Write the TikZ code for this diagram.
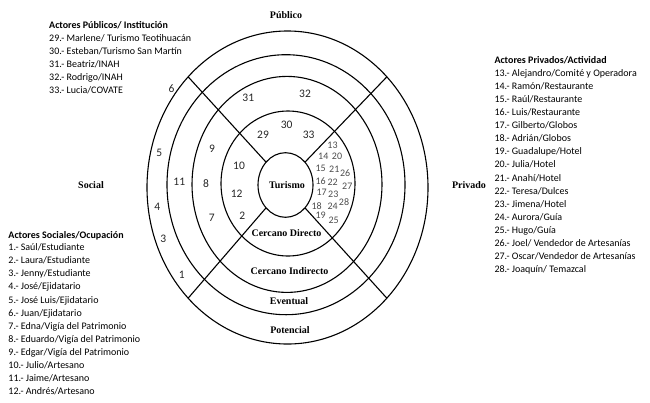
\documentclass[tikz,border=0pt]{standalone}
\usepackage{fontspec}
\setmainfont{Liberation Serif}
\newfontfamily\listfont{Carlito}
\usetikzlibrary{shapes.geometric}

\begin{document}
\begin{tikzpicture}[
  x=1pt, y=-1pt,
  ring/.style={ellipse, draw, line width=1.1pt, inner sep=0pt, outer sep=0pt},
  zone/.style={font=\fontsize{10}{12}\selectfont\bfseries},
  num/.style={font=\listfont\fontsize{11.5}{13}\selectfont, text=black!85},
  pnum/.style={font=\listfont\fontsize{10}{11}\selectfont, text=black!70, inner sep=0pt},
  item/.style={anchor=base west, inner sep=0pt, font=\listfont\fontsize{10}{13}\selectfont},
  hdr/.style={item, font=\listfont\fontsize{10}{13}\selectfont\bfseries}
]
\useasboundingbox (0,0) rectangle (650,402);
% rings
\node[ring, minimum width=281pt, minimum height=313pt] (pot) at (287.5,187.5) {};
\node[ring, minimum width=238pt, minimum height=260pt] (eve) at (286,184.7) {};
\node[ring, minimum width=190pt, minimum height=216pt] (ind) at (287,184.4) {};
\node[ring, minimum width=134pt, minimum height=145pt] (dir) at (288,183.5) {};
\node[ring, minimum width=55pt,  minimum height=64.6pt] (tur) at (285.5,185) {};
% sector lines
\draw[line width=1.1pt] (tur.north east) -- (pot.north east);
\draw[line width=1.1pt] (tur.north west) -- (pot.north west);
\draw[line width=1.1pt] (tur.south east) -- (pot.south east);
\draw[line width=1.1pt] (tur.south west) -- (pot.south west);
% zone names
\node[zone] (turismo) at (287,185)   {Turismo};
\node[zone] (cdir)    at (286.5,232.7) {Cercano Directo};
\node[zone] (cind)    at (289.5,270.7) {Cercano Indirecto};
\node[zone] (event)   at (289,301)   {Eventual};
\node[zone] (poten)   at (290,330)   {Potencial};
\node[zone] (publico) at (286,15)    {Público};
\node[zone] (social)  at (91,185)    {Social};
\node[zone] (privado) at (469,185)   {Privado};
% social actors
\node[num] (n6)  at (171.5,88.5) {6};
\node[num] (n5)  at (159.3,153.3) {5};
\node[num] (n4)  at (157.3,207.3) {4};
\node[num] (n3)  at (163.3,238.5) {3};
\node[num] (n1)  at (181.7,274.3) {1};
\node[num] (n11) at (179.3,181.7) {11};
\node[num] (n9)  at (212,149)   {9};
\node[num] (n8)  at (206,183.3) {8};
\node[num] (n7)  at (211.7,218.3) {7};
\node[num] (n10) at (239,165.7) {10};
\node[num] (n12) at (236.7,193.3) {12};
\node[num] (n2)  at (242.3,216) {2};
% public actors
\node[num] (n31) at (248.3,98.3) {31};
\node[num] (n32) at (305,94)    {32};
\node[num] (n30) at (286.7,125) {30};
\node[num] (n29) at (263,135)   {29};
\node[num] (n33) at (308.7,134.7) {33};
% private actors
\node[pnum] (n13) at (332.5,145) {13};
\node[pnum] (n14) at (323.3,156) {14};
\node[pnum] (n20) at (337,156) {20};
\node[pnum] (n15) at (320.7,168.3) {15};
\node[pnum] (n21) at (334.3,169) {21};
\node[pnum] (n26) at (345.2,173) {26};
\node[pnum] (n16) at (320.7,181) {16};
\node[pnum] (n22) at (332.7,182.7) {22};
\node[pnum] (n27) at (347.3,186.3) {27};
\node[pnum] (n17) at (321.7,192.7) {17};
\node[pnum] (n23) at (333.3,194.3) {23};
\node[pnum] (n28) at (344,201.7) {28};
\node[pnum] (n18) at (316.7,206) {18};
\node[pnum] (n24) at (332.7,206.7) {24};
\node[pnum] (n19) at (320.7,215.3) {19};
\node[pnum] (n25) at (333.7,220.3) {25};
% legends
\node[hdr] (pubhdr) at (49,28) {Actores Públicos/ Institución};
\foreach \t [count=\i from 0] in {29.- Marlene/ Turismo Teotihuacán,
    30.- Esteban/Turismo San Martín, 31.- Beatriz/INAH,
    32.- Rodrigo/INAH, 33.- Lucia/COVATE}
  \node[item] (pub\i) at (49,41.2+13.1*\i) {\t};
\node[hdr] (prihdr) at (494.3,63.2) {Actores Privados/Actividad};
\foreach \t [count=\i from 0] in {13.- Alejandro/Comité y Operadora,
    14.- Ramón/Restaurante, 15.- Raúl/Restaurante, 16.- Luis/Restaurante,
    17.- Gilberto/Globos, 18.- Adrián/Globos, 19.- Guadalupe/Hotel,
    20.- Julia/Hotel, 21.- Anahí/Hotel, 22.- Teresa/Dulces,
    23.- Jimena/Hotel, 24.- Aurora/Guía, 25.- Hugo/Guía,
    26.- Joel/ Vendedor de Artesanías, 27.- Oscar/Vendedor de Artesanías,
    28.- Joaquín/ Temazcal}
  \node[item] (pri\i) at (494.3,76.2+13.1*\i) {\t};
\node[hdr] (sochdr) at (8.3,238.5) {Actores Sociales/Ocupación};
\foreach \t [count=\i from 0] in {1.- Saúl/Estudiante, 2.- Laura/Estudiante,
    3.- Jenny/Estudiante, 4.- José/Ejidatario, 5.- José Luis/Ejidatario,
    6.- Juan/Ejidatario, 7.- Edna/Vigía del Patrimonio,
    8.- Eduardo/Vigía del Patrimonio, 9.- Edgar/Vigía del Patrimonio,
    10.- Julio/Artesano, 11.- Jaime/Artesano, 12.- Andrés/Artesano}
  \node[item] (soc\i) at (8.3,250.8+13.06*\i) {\t};
\end{tikzpicture}
\end{document}
